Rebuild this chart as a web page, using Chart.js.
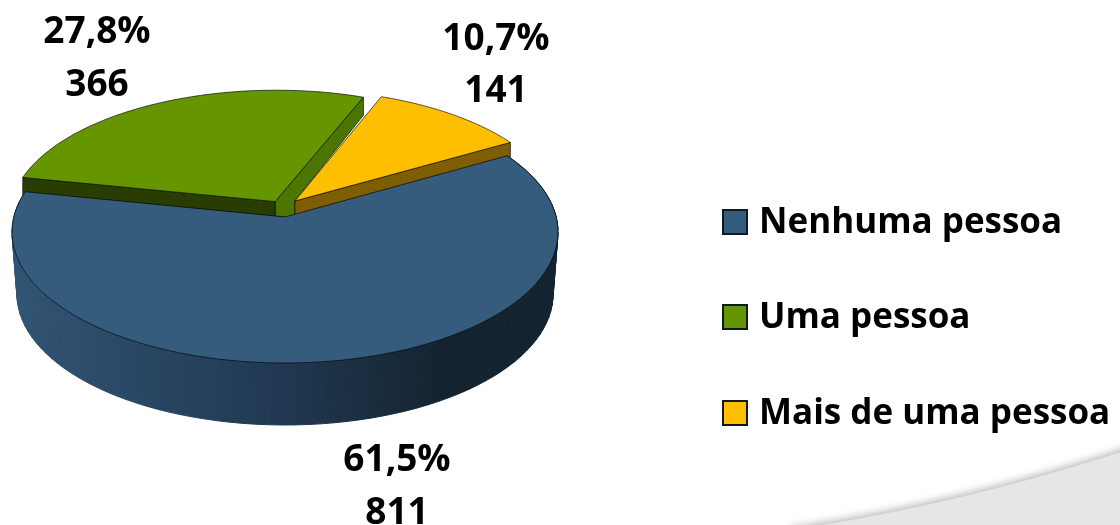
<!DOCTYPE html>
<html>
<head>
<meta charset="utf-8">
<style>
html, body { margin: 0; padding: 0; background: #fff; overflow: hidden; }
canvas { display: block; }
</style>
<script src="https://cdn.jsdelivr.net/npm/chart.js@4"></script>
</head>
<body>
<canvas id="pie" width="1120" height="525"></canvas>
<script>
// Data
const categories = ['Nenhuma pessoa', 'Uma pessoa', 'Mais de uma pessoa'];
const counts = [811, 366, 141];
const percents = ['61,5%', '27,8%', '10,7%'];
const colors = ['#365c7d', '#659600', '#fdbf00'];

// Ellipse of the pie top on screen, PERSP moves the disc centre up like a real camera
const CX = 285, CY = 232, RX = 273, RY = 131, PERSP = -0.115;
const S = Math.sqrt(1 - PERSP * PERSP);

function proj(u, v, dy, shrink) {
    const w = 1 + PERSP * v;
    return [CX + RX * (shrink || 1) * u * S / w, CY + RY * (v + PERSP) / w + (dy || 0)];
}

function rimPoints(el, shift, r, dy, shrink) {
    const pts = [];
    const steps = 90;
    for (let i = 0; i <= steps; i++) {
        const a = el.startAngle + (el.endAngle - el.startAngle) * i / steps;
        pts.push(proj(r * Math.cos(a) + shift[0], r * Math.sin(a) + shift[1], dy, shrink));
    }
    return pts;
}

function fillPoly(ctx, pts, fill, stroke) {
    ctx.beginPath();
    pts.forEach((p, i) => i ? ctx.lineTo(p[0], p[1]) : ctx.moveTo(p[0], p[1]));
    ctx.closePath();
    ctx.fillStyle = fill;
    ctx.fill();
    if (stroke) {
        ctx.strokeStyle = stroke;
        ctx.lineWidth = 1;
        ctx.stroke();
    }
}

const pie3d = {
    id: 'pie3d',
    beforeDraw(chart) {
        // grey swoosh of the slide behind the chart
        const ctx = chart.ctx;
        ctx.save();
        ctx.shadowColor = 'rgba(0,0,0,0.3)';
        ctx.shadowBlur = 9;
        ctx.shadowOffsetY = -2;
        ctx.beginPath();
        ctx.moveTo(790, 530);
        ctx.quadraticCurveTo(960, 505, 1130, 449);
        ctx.lineTo(1130, 540);
        ctx.lineTo(790, 540);
        ctx.closePath();
        ctx.fillStyle = '#e6e6e6';
        ctx.fill();
        ctx.restore();
    },
    beforeDatasetsDraw(chart) {
        const ctx = chart.ctx;
        const arcs = chart.getDatasetMeta(0).data;
        const blue = arcs[0], green = arcs[1], yellow = arcs[2];
        const greenShift = [-0.037, -0.12], yellowShift = [0.037, -0.125], blueShift = [0, 0];
        const WALL = 15, DEPTH = 62, R = 0.985;
        const line = 'rgba(0,0,0,0.65)';

        ctx.save();
        ctx.lineJoin = 'round';

        // green slice, its two cut walls first
        const gTop = rimPoints(green, greenShift, R);
        const gApex = proj(greenShift[0], greenShift[1]);
        const gLeft = gTop[0], gRight = gTop[gTop.length - 1];
        const yApex = proj(yellowShift[0], yellowShift[1]);
        fillPoly(ctx, [gApex, gRight, [gRight[0], gRight[1] + WALL + 3], yApex, [yApex[0], yApex[1] + WALL + 2], [gApex[0], gApex[1] + WALL]], '#4d7600', line);
        fillPoly(ctx, [gApex, gLeft, [gLeft[0], gLeft[1] + WALL + 4], [gApex[0], gApex[1] + WALL]], '#2a3d00', line);
        fillPoly(ctx, [gApex].concat(gTop), colors[1], line);

        // yellow slice
        const yTop = rimPoints(yellow, yellowShift, R);
        const yLeft = yTop[yTop.length - 1];
        fillPoly(ctx, [yApex, yLeft, [yLeft[0], yLeft[1] + WALL], [yApex[0], yApex[1] + WALL]], '#7d5e00', line);
        fillPoly(ctx, [yApex].concat(yTop), colors[2], line);

        // blue slice, outer wall with the side gradient then the top
        const bTop = rimPoints(blue, blueShift, 1);
        const bBottom = rimPoints(blue, blueShift, 1, DEPTH, 0.982);
        const grad = ctx.createLinearGradient(15, 0, 555, 0);
        grad.addColorStop(0, '#315474');
        grad.addColorStop(0.5, '#203850');
        grad.addColorStop(0.8, '#13232f');
        grad.addColorStop(1, '#13232f');
        ctx.strokeStyle = grad;
        ctx.lineWidth = 1;
        for (let i = 0; i < bTop.length - 1; i++) {
            fillPoly(ctx, [bTop[i], bTop[i + 1], bBottom[i + 1], bBottom[i]], grad);
            ctx.stroke();
        }
        fillPoly(ctx, [proj(blueShift[0], blueShift[1])].concat(bTop), colors[0], line);

        ctx.restore();
        return false;
    },
    afterDraw(chart) {
        const ctx = chart.ctx;
        ctx.save();
        ctx.fillStyle = '#000';
        ctx.textBaseline = 'middle';

        // value labels, one per slice
        const spots = [[397, 460, 513], [97, 32, 85], [496, 39, 91]];
        ctx.font = 'bold 37px "Open Sans"';
        ctx.textAlign = 'center';
        percents.forEach((p, i) => {
            ctx.fillText(p, spots[i][0], spots[i][1]);
            ctx.fillText(String(counts[i]), spots[i][0], spots[i][2]);
        });

        // legend
        const rows = [223, 318, 414];
        ctx.font = 'bold 35px "Open Sans"';
        ctx.textAlign = 'left';
        categories.forEach((c, i) => {
            ctx.fillStyle = colors[i];
            ctx.fillRect(723, rows[i] - 13, 24, 24);
            ctx.strokeStyle = '#0d1a26';
            ctx.lineWidth = 2;
            ctx.strokeRect(723, rows[i] - 13, 24, 24);
            ctx.fillStyle = '#000';
            ctx.fillText(c, 759, rows[i]);
        });
        ctx.restore();
    }
};

const chart = new Chart(document.getElementById('pie').getContext('2d'), {
    type: 'pie',
    data: {
        labels: categories,
        datasets: [{
            data: counts,
            backgroundColor: colors
        }]
    },
    options: {
        responsive: false,
        animation: false,
        rotation: 60,
        events: [],
        plugins: {
            legend: { display: false },
            tooltip: { enabled: false }
        }
    },
    plugins: [pie3d]
});
</script>
</body>
</html>
